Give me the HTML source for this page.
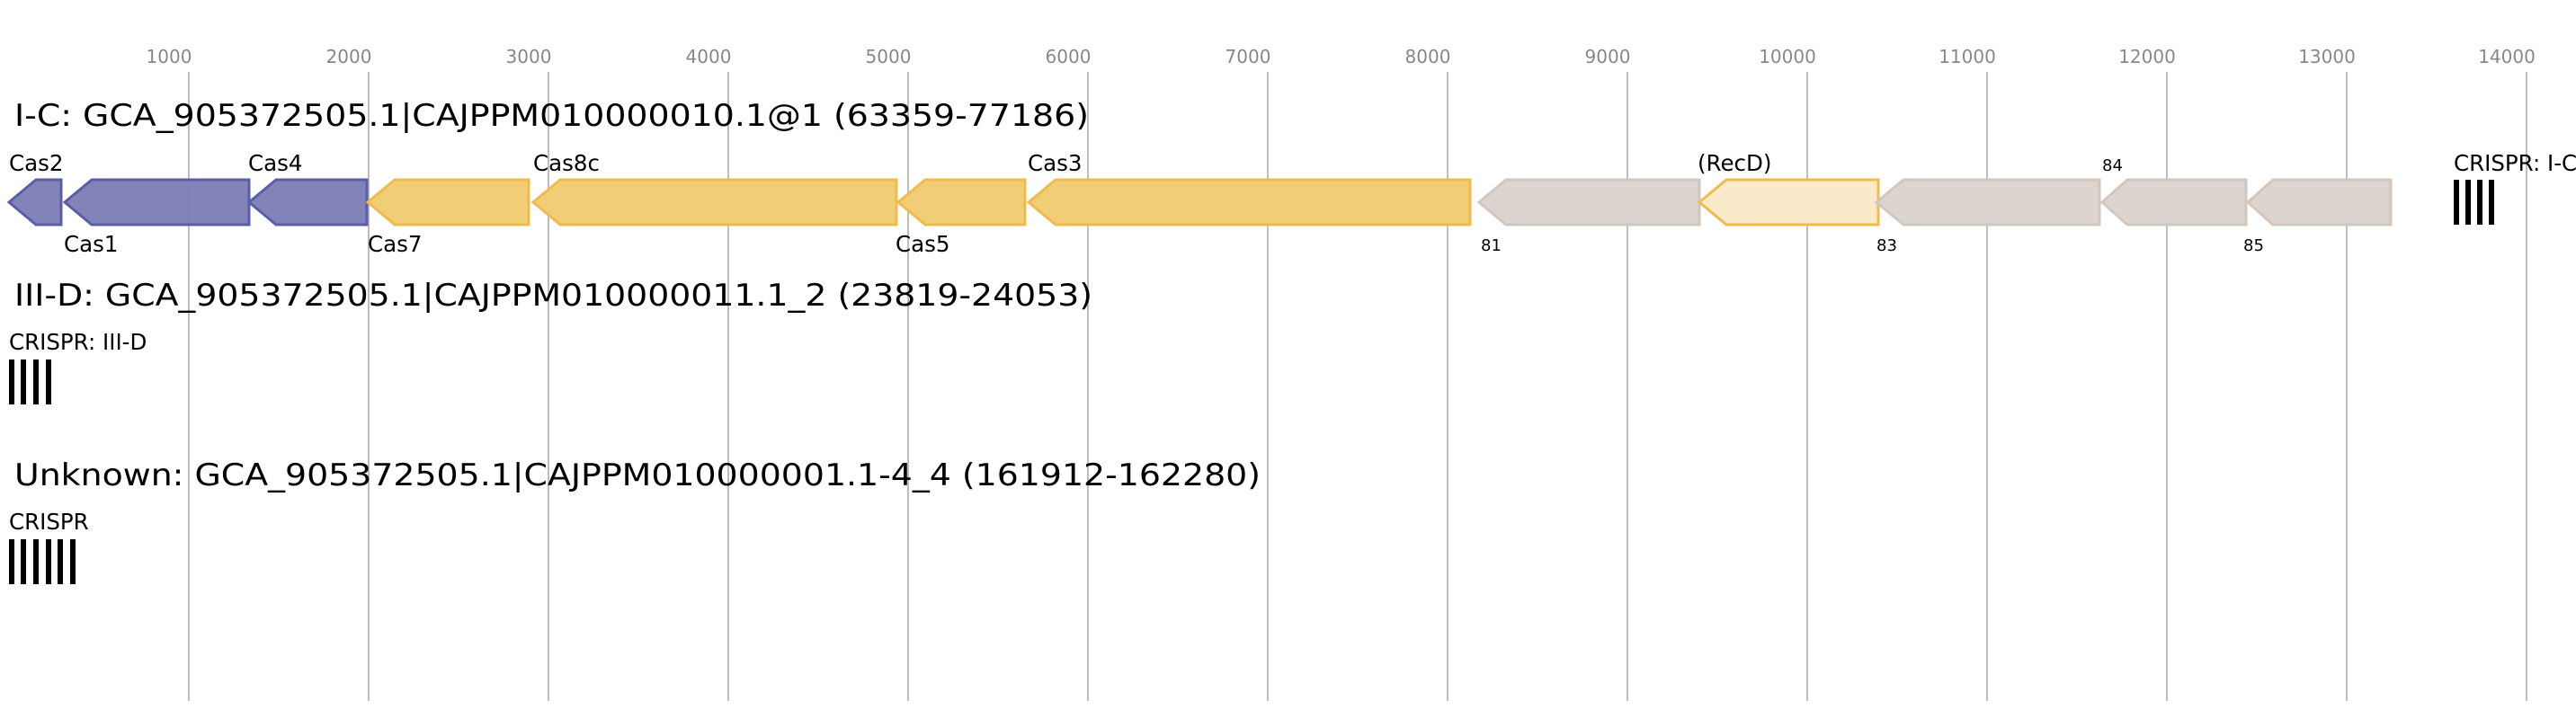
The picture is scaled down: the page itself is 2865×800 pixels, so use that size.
<!DOCTYPE html>
<html><head><meta charset="utf-8"><style>
html,body{margin:0;padding:0;background:#fff;}
svg{display:block;font-family:"DejaVu Sans","Liberation Sans",sans-serif;}
</style></head><body>
<svg width="2865" height="800" viewBox="0 0 2865 800" xmlns="http://www.w3.org/2000/svg">
<g stroke="#bdbdbd" stroke-width="2">
<line x1="210" y1="80" x2="210" y2="780"/><line x1="410" y1="80" x2="410" y2="780"/>
<line x1="610" y1="80" x2="610" y2="780"/><line x1="810" y1="80" x2="810" y2="780"/>
<line x1="1010" y1="80" x2="1010" y2="780"/><line x1="1210" y1="80" x2="1210" y2="780"/>
<line x1="1410" y1="80" x2="1410" y2="780"/><line x1="1610" y1="80" x2="1610" y2="780"/>
<line x1="1810" y1="80" x2="1810" y2="780"/><line x1="2010" y1="80" x2="2010" y2="780"/>
<line x1="2210" y1="80" x2="2210" y2="780"/><line x1="2410" y1="80" x2="2410" y2="780"/>
<line x1="2610" y1="80" x2="2610" y2="780"/><line x1="2810" y1="80" x2="2810" y2="780"/>
</g>
<g fill="#888" font-size="20" text-anchor="middle">
<text x="188" y="70">1000</text><text x="388" y="70">2000</text><text x="588" y="70">3000</text>
<text x="788" y="70">4000</text><text x="988" y="70">5000</text><text x="1188" y="70">6000</text>
<text x="1388" y="70">7000</text><text x="1588" y="70">8000</text><text x="1788" y="70">9000</text>
<text x="1988" y="70">10000</text><text x="2188" y="70">11000</text><text x="2388" y="70">12000</text>
<text x="2588" y="70">13000</text><text x="2788" y="70">14000</text>
</g>
<text x="16" y="140" font-size="34" textLength="1195" lengthAdjust="spacingAndGlyphs">I-C: GCA_905372505.1|CAJPPM010000010.1@1 (63359-77186)</text>
<text x="16" y="340" font-size="34" textLength="1199" lengthAdjust="spacingAndGlyphs">III-D: GCA_905372505.1|CAJPPM010000011.1_2 (23819-24053)</text>
<text x="16" y="540" font-size="34" textLength="1386" lengthAdjust="spacingAndGlyphs">Unknown: GCA_905372505.1|CAJPPM010000001.1-4_4 (161912-162280)</text>
<g stroke-width="3" stroke-linejoin="miter">
<polygon fill="#7b7db5" fill-opacity="0.95" stroke="#5a5ea8" points="10,225 40,200 68,200 68,250 40,250"/>
<polygon fill="#7b7db5" fill-opacity="0.95" stroke="#5a5ea8" points="72,225 102,200 277,200 277,250 102,250"/>
<polygon fill="#7b7db5" fill-opacity="0.95" stroke="#5a5ea8" points="277,225 307,200 408,200 408,250 307,250"/>
<polygon fill="#f1cd76" stroke="#efbc4b" points="409,225 439,200 588,200 588,250 439,250"/>
<polygon fill="#f1cd76" stroke="#efbc4b" points="593,225 623,200 997,200 997,250 623,250"/>
<polygon fill="#f1cd76" stroke="#efbc4b" points="999,225 1029,200 1140,200 1140,250 1029,250"/>
<polygon fill="#f1cd76" stroke="#efbc4b" points="1144,225 1174,200 1635,200 1635,250 1174,250"/>
<polygon fill="#dbd4cf" stroke="#d2c6bd" points="1645,225 1675,200 1890,200 1890,250 1675,250"/>
<polygon fill="#faeaca" stroke="#efbc4b" points="1890,225 1920,200 2089,200 2089,250 1920,250"/>
<polygon fill="#dbd4cf" stroke="#d2c6bd" points="2087,225 2117,200 2335,200 2335,250 2117,250"/>
<polygon fill="#dbd4cf" stroke="#d2c6bd" points="2338,225 2366,200 2498,200 2498,250 2366,250"/>
<polygon fill="#dbd4cf" stroke="#d2c6bd" points="2500,225 2528,200 2659,200 2659,250 2528,250"/>
</g>
<g font-size="24.5" fill="#000">
<text x="10" y="190">Cas2</text><text x="276" y="190">Cas4</text><text x="593" y="190">Cas8c</text>
<text x="1143" y="190">Cas3</text><text x="1888" y="190">(RecD)</text><text x="2729" y="190">CRISPR: I-C</text>
<text x="71" y="280">Cas1</text><text x="409" y="280">Cas7</text><text x="996" y="280">Cas5</text>
<text x="10" y="389">CRISPR: III-D</text><text x="10" y="589">CRISPR</text>
</g>
<g font-size="18" fill="#000">
<text x="2338" y="190">84</text><text x="1647" y="279">81</text><text x="2087" y="279">83</text><text x="2495" y="279">85</text>
</g>
<g fill="#000">
<rect x="2729" y="200" width="6" height="50"/><rect x="2742" y="200" width="6" height="50"/><rect x="2755" y="200" width="6" height="50"/><rect x="2768" y="200" width="6" height="50"/>
<rect x="10" y="400" width="6" height="50"/><rect x="23" y="400" width="6" height="50"/><rect x="37" y="400" width="6" height="50"/><rect x="51" y="400" width="6" height="50"/>
<rect x="10" y="600" width="6" height="50"/><rect x="23" y="600" width="6" height="50"/><rect x="37" y="600" width="6" height="50"/><rect x="51" y="600" width="6" height="50"/><rect x="64" y="600" width="6" height="50"/><rect x="78" y="600" width="6" height="50"/>
</g>
</svg>
</body></html>
